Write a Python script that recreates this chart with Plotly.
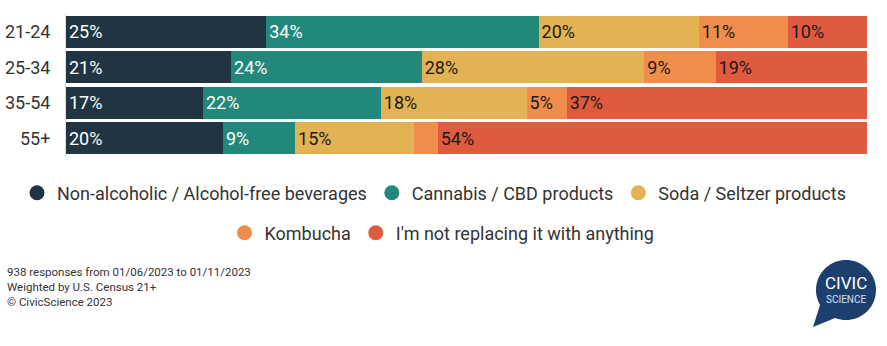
import math
import plotly.graph_objects as go

# ---- data ----
age_groups = ["21-24", "25-34", "35-54", "55+"]
series_names = [
    "Non-alcoholic / Alcohol-free beverages",
    "Cannabis / CBD products",
    "Soda / Seltzer products",
    "Kombucha",
    "I'm not replacing it with anything",
]
non_alcoholic = [25.0, 20.6, 17.1, 19.6]
cannabis = [34.0, 23.8, 22.2, 9.0]
soda = [20.0, 27.8, 18.2, 14.9]
kombucha = [11.1, 8.9, 5.0, 2.9]
not_replacing = [9.9, 18.9, 37.5, 53.6]
labels_non_alcoholic = ["25%", "21%", "17%", "20%"]
labels_cannabis = ["34%", "24%", "22%", "9%"]
labels_soda = ["20%", "28%", "18%", "15%"]
labels_kombucha = ["11%", "9%", "5%", ""]
labels_not_replacing = ["10%", "19%", "37%", "54%"]

colors = ["#203541", "#22897A", "#E3B252", "#F08C4C", "#E05A3F"]
text_colors = ["#FFFFFF", "#FFFFFF", "#1A1A1A", "#1A1A1A", "#1A1A1A"]
values = [non_alcoholic, cannabis, soda, kombucha, not_replacing]
labels = [labels_non_alcoholic, labels_cannabis, labels_soda, labels_kombucha, labels_not_replacing]

W, H = 887, 346
L, R, T, B = 66, 20, 14, 190
PW, PH = W - L - R, H - T - B

def px(x):
    return (x - L) / PW

def py(y):
    return (H - B - y) / PH

fig = go.Figure()
for name, vals, lab, c, tc in zip(series_names, values, labels, colors, text_colors):
    fig.add_trace(go.Bar(
        y=age_groups, x=vals, orientation="h", name=name,
        marker=dict(color=c, line=dict(width=0)),
        text=lab, textposition="inside", insidetextanchor="start",
        textfont=dict(family="Roboto", size=18, color=tc),
        constraintext="none", showlegend=False, hoverinfo="skip",
    ))

# legend entries with circle markers, two rows
for i, (name, c) in enumerate(zip(series_names, colors)):
    fig.add_trace(go.Scatter(
        x=[None], y=[None], mode="markers", name=name,
        marker=dict(color=c, size=15, symbol="circle"),
        legend="legend" if i < 3 else "legend2",
    ))

fig.update_layout(
    width=W, height=H,
    margin=dict(l=L, r=R, t=T, b=B, autoexpand=False),
    barmode="stack", bargap=0.1,
    plot_bgcolor="white", paper_bgcolor="white",
    font=dict(family="Roboto", color="#333333"),
    xaxis=dict(range=[0, 100], showgrid=False, showticklabels=False, zeroline=False,
               fixedrange=True, automargin=False),
    yaxis=dict(categoryorder="array", categoryarray=age_groups, autorange="reversed",
               showgrid=False, showline=True, linecolor="#E0E0E0", linewidth=1,
               tickfont=dict(size=18, color="#333333"), ticklabelstandoff=11,
               automargin=False),
    legend=dict(orientation="h", x=px(17), xanchor="left", y=py(193), yanchor="middle",
                font=dict(size=18, color="#333333"), traceorder="normal",
                bgcolor="rgba(0,0,0,0)"),
    legend2=dict(orientation="h", x=px(442), xanchor="center", y=py(233), yanchor="middle",
                 font=dict(size=18, color="#333333"), traceorder="normal",
                 bgcolor="rgba(0,0,0,0)"),
    showlegend=True,
)

fig.add_annotation(
    x=px(5), y=py(263), xref="paper", yref="paper", xanchor="left", yanchor="top",
    align="left", showarrow=False,
    text="938 responses from 01/06/2023 to 01/11/2023<br>Weighted by U.S. Census 21+<br>© CivicScience 2023",
    font=dict(size=11.5, color="#333333"),
)

# logo: speech-bubble circle drawn as a polygon path
logo = "#1D3F6E"
cx, cy, r = 846, 290, 30
pts = []
for k in range(72):
    a = 2 * math.pi * k / 72
    pts.append((px(cx + r * math.cos(a)), py(cy + r * math.sin(a))))
circle_path = "M " + " L ".join(f"{x:.5f},{y:.5f}" for x, y in pts) + " Z"
fig.add_shape(type="path", xref="paper", yref="paper", layer="above",
              path=circle_path, fillcolor=logo, line=dict(width=0))
fig.add_shape(type="path", xref="paper", yref="paper", layer="above",
              path=f"M {px(821)},{py(302)} L {px(813)},{py(327)} L {px(840)},{py(316)} Z",
              fillcolor=logo, line=dict(width=0))
fig.add_annotation(x=px(846), y=py(283), xref="paper", yref="paper", showarrow=False,
                   xanchor="center", yanchor="middle",
                   text="CIVIC", font=dict(size=17, color="white", family="Roboto"))
fig.add_annotation(x=px(846), y=py(299), xref="paper", yref="paper", showarrow=False,
                   xanchor="center", yanchor="middle",
                   text="SCIENCE", font=dict(size=10, color="#D8E0EC", family="Roboto"))

fig.write_html("out.html")
